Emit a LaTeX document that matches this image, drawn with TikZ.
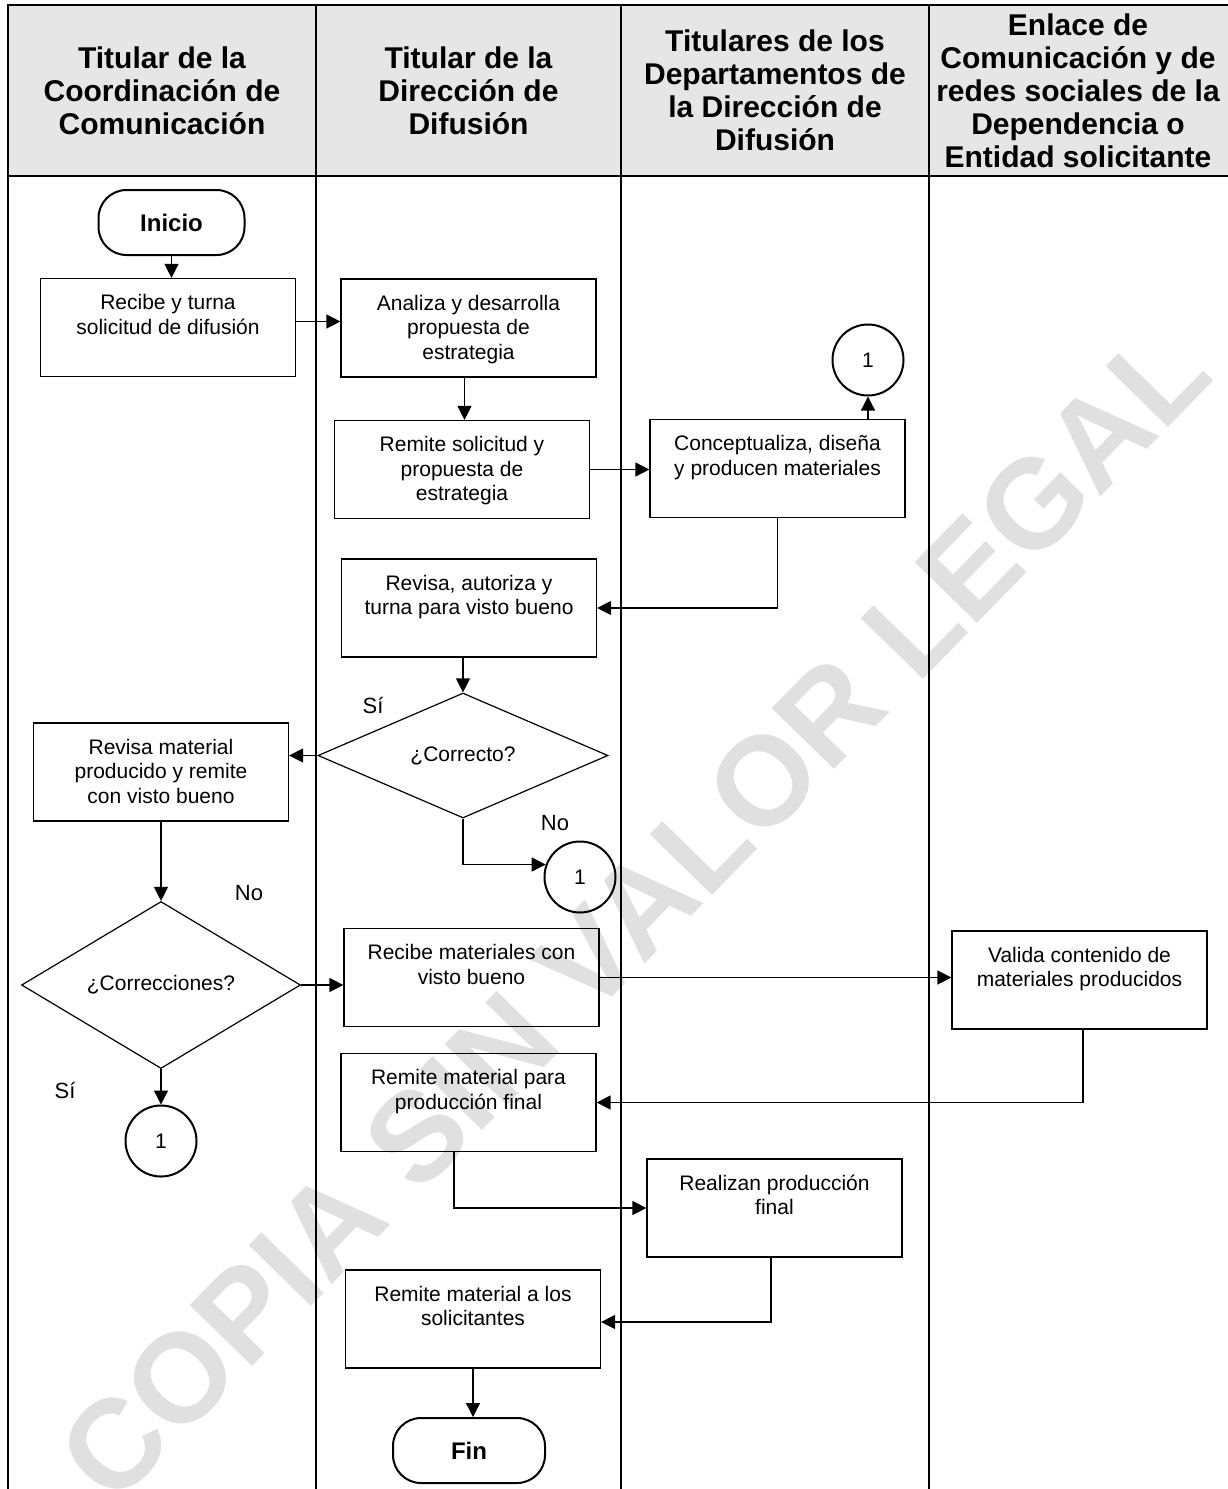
\documentclass[tikz,border=0pt]{standalone}
\usepackage{fontspec}
\setmainfont{Liberation Sans}
\usetikzlibrary{shapes.geometric,arrows.meta}
\definecolor{cabecera}{RGB}{230,230,230}
\definecolor{marcagris}{RGB}{224,224,224}
\newcommand{\caja}[1]{\parbox[c][98pt][t]{245pt}{\centering\rule{0pt}{31pt}#1}}
\begin{document}
\begin{tikzpicture}[x=1pt,y=-1pt,
    font=\fontsize{21}{24.5}\selectfont,
    proc/.style={draw,line width=1.2pt,minimum width=255pt,minimum height=98pt,inner sep=0pt},
    decision/.style={draw,diamond,line width=1.2pt,inner sep=0pt},
    conector/.style={draw,circle,line width=2pt,minimum size=71pt,inner sep=0pt},
    terminal/.style={draw,rounded corners=28pt,line width=2pt,minimum height=65pt,inner sep=0pt,font=\fontsize{24}{28}\selectfont\bfseries},
    titulo/.style={align=center,font=\fontsize{30}{33}\selectfont\bfseries},
    etiqueta/.style={font=\fontsize{22}{26}\selectfont},
    flecha/.style={line width=1.3pt,-{Triangle[length=14pt,width=14pt]}},
    carril/.style={line width=2.2pt}]
    \useasboundingbox (0,0) rectangle (1227,1489);
    \node[rotate=45.7,text=marcagris,font=\fontsize{126.5}{126.5}\selectfont\bfseries] (marca) at (634,913) {COPIA SIN VALOR LEGAL};
    % encabezado y carriles
    \fill[cabecera] (8,5) rectangle (1232,176);
    \draw[carril] (1232,5) -- (8,5) -- (8,1495);
    \draw[carril] (8,176) -- (1232,176);
    \foreach \x in {316,621,929}{
        \draw[carril] (\x,5) -- (\x,1495);
    }
    \node[titulo] (h1) at (162,90.5) {Titular de la\\Coordinación de\\Comunicación};
    \node[titulo] (h2) at (468.5,90.5) {Titular de la\\Dirección de\\Difusión};
    \node[titulo] (h3) at (775,90.5) {Titulares de los\\Departamentos de\\la Dirección de\\Difusión};
    \node[titulo] (h4) at (1078,90.5) {Enlace de\\Comunicación y de\\redes sociales de la\\Dependencia o\\Entidad solicitante};
    % pasos
    \node[terminal,minimum width=146pt] (inicio) at (171.5,222.5) {Inicio};
    \node[proc] (recibe) at (168,327.5) {\caja{Recibe y turna\\solicitud de difusión}};
    \node[proc] (analiza) at (468.5,328) {\caja{Analiza y desarrolla\\propuesta de\\estrategia}};
    \node[proc] (remsol) at (462,469.5) {\caja{Remite solicitud y\\propuesta de\\estrategia}};
    \node[proc] (concep) at (777.5,468.5) {\caja{Conceptualiza, diseña\\y producen materiales}};
    \node[conector] (circA) at (868,360) {1};
    \node[proc] (revisa) at (469,608) {\caja{Revisa, autoriza y\\turna para visto bueno}};
    \node[decision,minimum width=290pt,minimum height=125pt] (correcto) at (463,755.5) {¿Correcto?};
    \node[proc] (revmat) at (161,772) {\caja{Revisa material\\producido y remite\\con visto bueno}};
    \node[conector] (circB) at (580,877) {1};
    \node[decision,minimum width=279pt,minimum height=160pt] (correc) at (161,985) {¿Correcciones?};
    \node[proc] (recmat) at (471.5,977.5) {\caja{Recibe materiales con\\visto bueno}};
    \node[proc] (valida) at (1079.5,980) {\caja{Valida contenido de\\materiales producidos}};
    \node[conector] (circC) at (161,1141) {1};
    \node[proc] (remfin) at (468.5,1102.5) {\caja{Remite material para\\producción final}};
    \node[proc] (realiza) at (774.5,1208) {\caja{Realizan producción\\final}};
    \node[proc] (remsolic) at (473,1319) {\caja{Remite material a los\\solicitantes}};
    \node[terminal,minimum width=152pt] (fin) at (469,1450.5) {Fin};
    % etiquetas
    \node[etiqueta] (si1) at (373,705) {Sí};
    \node[etiqueta] (no1) at (555,823) {No};
    \node[etiqueta] (no2) at (249,893) {No};
    \node[etiqueta] (si2) at (65,1090) {Sí};
    % flechas
    \draw[flecha] (inicio.south) -- (inicio.south |- recibe.north);
    \draw[flecha] ([yshift=6pt]recibe.east) -- ([yshift=6pt]recibe.east -| analiza.west);
    \draw[flecha] ([xshift=-4pt]analiza.south) -- ([xshift=-4pt]analiza.south |- remsol.north);
    \draw[flecha] (remsol.east) -- (remsol.east -| concep.west);
    \draw[flecha] (circA.south |- concep.north) -- (circA.south);
    \draw[flecha] (concep.south) |- (revisa.east);
    \draw[flecha] (correcto.north |- revisa.south) -- (correcto.north);
    \draw[flecha] (correcto.west) -- (correcto.west -| revmat.east);
    \draw[flecha] (correcto.south) |- (circB.160);
    \draw[flecha] (revmat.south) -- (correc.north);
    \draw[flecha] (correc.east) -- (correc.east -| recmat.west);
    \draw[flecha] (correc.south) -- (circC.north);
    \draw[flecha] (recmat.east) -- (recmat.east -| valida.west);
    \draw[flecha] ([xshift=3.5pt]valida.south) |- (remfin.east);
    \draw[flecha] ([xshift=-14.5pt]remfin.south) |- (realiza.west);
    \draw[flecha] ([xshift=-3.5pt]realiza.south) |- ([yshift=-3pt]remsolic.east);
    \draw[flecha] (remsolic.south) -- (remsolic.south |- fin.north);
\end{tikzpicture}
\end{document}
